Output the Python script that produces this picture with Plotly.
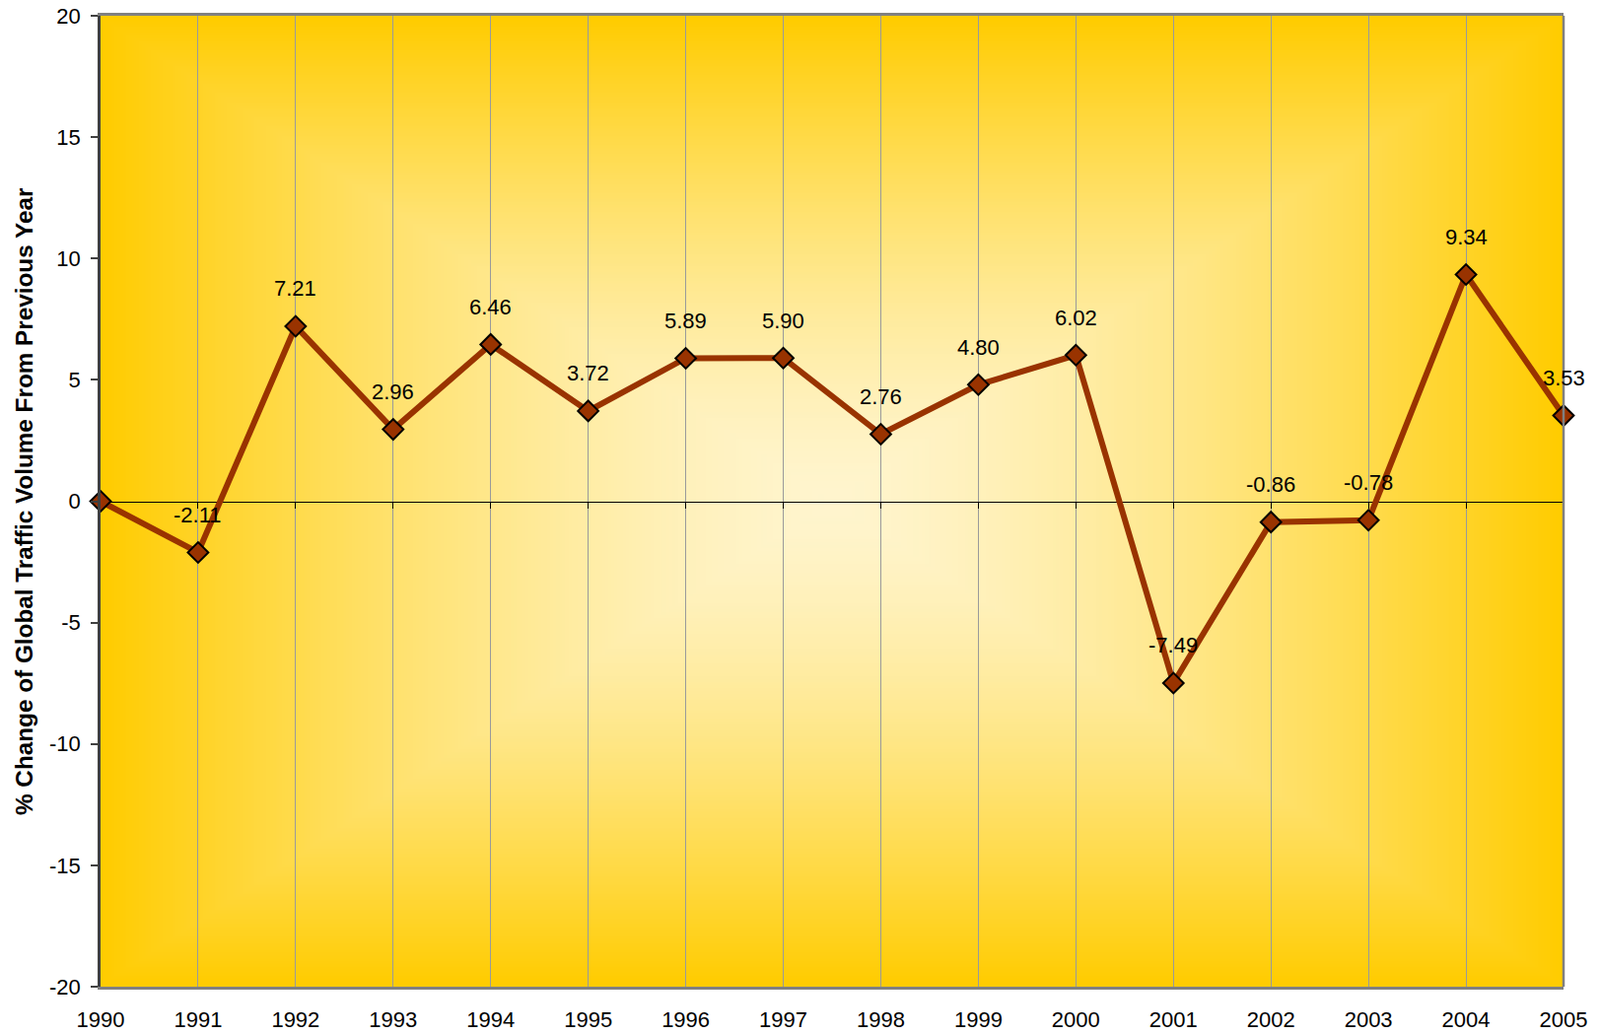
import base64, struct, zlib
import numpy as np
import plotly.graph_objects as go

years = list(range(1990, 2006))
values = [0.0, -2.11, 7.21, 2.96, 6.46, 3.72, 5.89, 5.90, 2.76, 4.80, 6.02, -7.49, -0.86, -0.78, 9.34, 3.53]
label_years = years[1:]
label_values = values[1:]
y_tickvals = [-20, -15, -10, -5, 0, 5, 10, 15, 20]
y_ticktext = ["-20", "-15", "-10", "-5", "0", "5", "10", "15", "20"]
x_ticktext = [str(y) for y in years]
y_title = "% Change of Global Traffic Volume From Previous Year"

FONT = "Arial, Liberation Sans, sans-serif"
LINE_COLOR = "#993300"

# ---- rectangular "from center" gradient background as PNG ----
def make_png(arr):
    h, w, _ = arr.shape
    raw = b"".join(b"\x00" + arr[i].tobytes() for i in range(h))
    def chunk(tag, data):
        c = struct.pack(">I", len(data)) + tag + data
        return c + struct.pack(">I", zlib.crc32(tag + data) & 0xffffffff)
    png = b"\x89PNG\r\n\x1a\n"
    png += chunk(b"IHDR", struct.pack(">IIBBBBB", w, h, 8, 2, 0, 0, 0))
    png += chunk(b"IDAT", zlib.compress(raw, 9))
    png += chunk(b"IEND", b"")
    return "data:image/png;base64," + base64.b64encode(png).decode()

W, H = 480, 320
u = np.abs(np.linspace(-1, 1, W))[None, :]
v = np.abs(np.linspace(-1, 1, H))[:, None]
t = np.maximum(u, v) ** 1.5
center = np.array([255, 245, 206], dtype=float)
edge = np.array([255, 204, 0], dtype=float)
img = center[None, None, :] * (1 - t[..., None]) + edge[None, None, :] * t[..., None]
img = np.clip(img, 0, 255).astype(np.uint8)
bg_src = make_png(img)

fig = go.Figure()

# invisible trace to activate the zero-crossing category axis
fig.add_trace(go.Scatter(x=years, y=values, xaxis="x2", yaxis="y", mode="lines",
                         line=dict(width=0, color="rgba(0,0,0,0)"),
                         hoverinfo="skip", showlegend=False))

fig.add_trace(go.Scatter(
    x=years, y=values, mode="lines+markers",
    line=dict(color=LINE_COLOR, width=6),
    marker=dict(symbol="diamond", size=16, color=LINE_COLOR,
                line=dict(color="black", width=2)),
    showlegend=False, cliponaxis=False,
))

for yr, val in zip(label_years, label_values):
    fig.add_annotation(x=yr, y=val, text=f"{val:.2f}", showarrow=False,
                       yshift=38, font=dict(family=FONT, size=22, color="black"))

fig.add_annotation(x=0, y=0.5, xref="paper", yref="paper", xshift=-77.5,
                   xanchor="center", yanchor="middle",
                   text=y_title, textangle=-90, showarrow=False,
                   font=dict(family=FONT, size=24.3, color="black", weight="bold"))

fig.add_layout_image(dict(source=bg_src, xref="paper", yref="paper", x=0, y=1,
                          sizex=1, sizey=1, sizing="stretch", layer="below",
                          xanchor="left", yanchor="top"))

# right border
fig.add_shape(type="line", xref="paper", yref="paper", x0=1, x1=1, y0=0, y1=1,
              line=dict(color="#808080", width=2.5))

fig.update_layout(
    width=1623, height=1049,
    margin=dict(l=101.5, r=37, t=15.7, b=48.3, autoexpand=False),
    paper_bgcolor="white", plot_bgcolor="rgba(0,0,0,0)",
    font=dict(family=FONT, size=22, color="black"),
    xaxis=dict(range=[1990, 2005], tickvals=years, ticktext=x_ticktext,
               showgrid=True, automargin=False,
               gridcolor="#9a9a9a", gridwidth=1, showline=True, linecolor="#808080",
               linewidth=2.5, mirror=True, ticks="", ticklabelstandoff=12,
               zeroline=False, tickfont=dict(size=22)),
    xaxis2=dict(range=[1990, 2005], tickvals=years, overlaying="x",
                anchor="free", position=0.5, showline=True, linecolor="black",
                linewidth=1, ticks="outside", ticklen=6, tickcolor="black",
                tickwidth=1, showticklabels=False, showgrid=False, zeroline=False,
                layer="below traces", automargin=False),
    yaxis=dict(range=[-20, 20], tickvals=y_tickvals, ticktext=y_ticktext,
               showgrid=False, zeroline=False, automargin=False,
               showline=True, linecolor="#404040", linewidth=2.5, ticks="outside",
               ticklen=7, tickcolor="#404040", tickwidth=1.5, ticklabelstandoff=6,
               tickfont=dict(size=22)),
)

fig.write_html("out.html", config={"displayModeBar": False},
               post_script="document.body.style.margin='0';document.body.style.overflow='hidden';")
